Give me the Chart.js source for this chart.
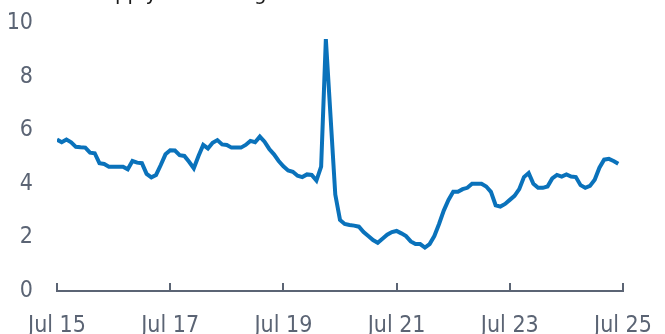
<!DOCTYPE html>
<html>
<head>
<meta charset="utf-8">
<script src="https://cdn.jsdelivr.net/npm/chart.js@4"></script>
<style>
  body { margin: 0; background: #fff; }
  canvas { display: block; }
</style>
</head>
<body>
<canvas id="graphSupply" width="665" height="334"></canvas>
<script>
// titulo (solo asoma la parte de abajo en la imagen)
var chartTitle = "Months' supply of existing homes for sale"

// etiquetas del eje X, cada 24 meses
var tickLabels = ['Jul 15', 'Jul 17', 'Jul 19', 'Jul 21', 'Jul 23', 'Jul 25']

// meses desde Jul 15 hasta Jun 25
var monthNames = ['Jan', 'Feb', 'Mar', 'Apr', 'May', 'Jun', 'Jul', 'Aug', 'Sep', 'Oct', 'Nov', 'Dec']
var categories = []
for (var y = 15; y <= 25; y++) {
  for (var m = 0; m < 12; m++) {
    if ((y == 15 && m < 6) || (y == 25 && m > 5)) continue
    categories.push(monthNames[m] + ' ' + y)
  }
}

// valores mensuales
var supply = [
  5.65, 5.55, 5.65, 5.55, 5.38, 5.36, 5.35, 5.16, 5.14, 4.77, 4.74, 4.64,
  4.64, 4.64, 4.64, 4.54, 4.85, 4.79, 4.77, 4.37, 4.24, 4.33, 4.70, 5.10,
  5.25, 5.24, 5.07, 5.04, 4.82, 4.58, 5.04, 5.45, 5.32, 5.53, 5.63, 5.47,
  5.45, 5.35, 5.35, 5.35, 5.45, 5.60, 5.55, 5.76, 5.57, 5.30, 5.10, 4.85,
  4.65, 4.50, 4.45, 4.30, 4.25, 4.35, 4.33, 4.12, 4.64, 9.40, 6.50, 3.60,
  2.65, 2.50, 2.46, 2.44, 2.40, 2.20, 2.05, 1.90, 1.80, 1.95, 2.10, 2.20,
  2.24, 2.15, 2.05, 1.85, 1.75, 1.75, 1.62, 1.75, 2.05, 2.50, 3.00, 3.40,
  3.70, 3.70, 3.80, 3.85, 4.00, 4.00, 4.00, 3.90, 3.70, 3.20, 3.15, 3.25,
  3.40, 3.55, 3.80, 4.25, 4.40, 4.00, 3.85, 3.85, 3.90, 4.20, 4.33, 4.27,
  4.35, 4.27, 4.25, 3.95, 3.85, 3.92, 4.15, 4.60, 4.90, 4.93, 4.85, 4.75
]

var points = []
for (var i = 0; i < supply.length; i++) {
  points.push({ x: i, y: supply[i] })
}

var axisGray = '#5b6474'
var fontFamily = "'Liberation Sans Narrow', 'DejaVu Sans Condensed', 'Liberation Sans', sans-serif"

// dibuja el titulo cortado arriba
var titlePlugin = {
  id: 'cutTitle',
  afterDraw: function (chart) {
    var ctx = chart.ctx
    ctx.save()
    ctx.font = '22px ' + fontFamily
    ctx.fillStyle = '#1a1a1a'
    ctx.textBaseline = 'alphabetic'
    ctx.fillText(chartTitle, 8, 0)
    ctx.restore()
  }
}

function createChart() {
  var ctx = document.getElementById('graphSupply').getContext('2d')

  var myChart = new Chart(ctx, {
    type: 'line',
    data: {
      labels: categories,
      datasets: [{
        label: 'Months supply',
        data: points,
        borderColor: '#0a72bb',
        borderWidth: 4,
        pointRadius: 0,
        tension: 0,
        fill: false
      }]
    },
    options: {
      responsive: false,
      devicePixelRatio: 1,
      animation: false,
      layout: { padding: { top: 23, right: 42, bottom: 0, left: 0 } },
      plugins: {
        legend: { display: false },
        tooltip: { enabled: false }
      },
      scales: {
        x: {
          type: 'linear',
          min: 0,
          max: 120,
          afterFit: function (s) {
            s.height = 43
            s.paddingLeft = 0
            s.paddingRight = 0
          },
          border: { display: true, color: axisGray, width: 2 },
          grid: {
            display: true,
            drawOnChartArea: false,
            drawTicks: true,
            tickLength: -8,
            color: axisGray,
            lineWidth: 2
          },
          ticks: {
            stepSize: 24,
            autoSkip: false,
            maxRotation: 0,
            padding: 29,
            color: axisGray,
            font: { family: fontFamily, size: 23 },
            callback: function (value) { return tickLabels[value / 24] }
          }
        },
        y: {
          min: 0,
          max: 10,
          afterFit: function (s) {
            s.width = 57
            s.paddingTop = 0
            s.paddingBottom = 0
          },
          border: { display: false },
          grid: { display: false, drawTicks: false },
          ticks: {
            stepSize: 2,
            padding: 24,
            color: axisGray,
            font: { family: fontFamily, size: 23 }
          }
        }
      }
    },
    plugins: [titlePlugin]
  })

  myChart.render()
}

createChart()
</script>
</body>
</html>
